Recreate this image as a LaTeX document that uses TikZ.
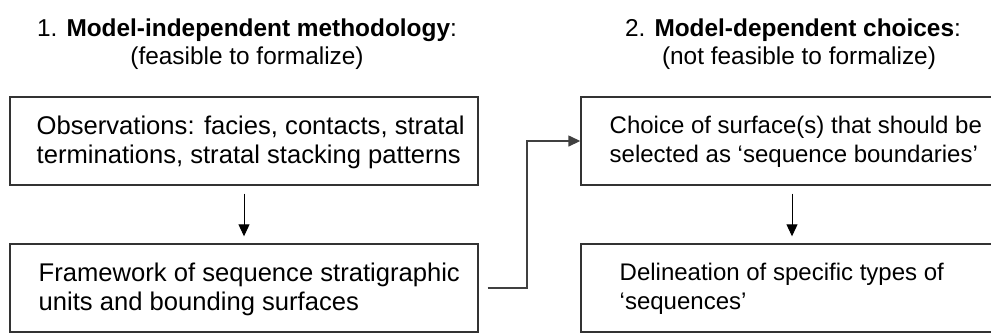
\documentclass[tikz,border=0pt]{standalone}
\usepackage{fontspec}
\setmainfont{Liberation Sans}
\usetikzlibrary{arrows.meta}
\tikzset{
	stagebox/.style={draw=black!80, line width=0.7pt, minimum height=44pt, inner sep=0pt},
	boxtext/.style={anchor=west, align=left, inner sep=0pt, font=\fontsize{12}{14.5}\selectfont},
	wide text/.style={boxtext, font=\fontsize{12.8}{14.5}\selectfont},
	heading/.style={align=center, inner sep=0pt, font=\fontsize{12.2}{14}\selectfont},
	flow/.style={-{Triangle[width=5.5pt,length=6pt]}, line width=0.5pt},
}
\begin{document}
\begin{tikzpicture}[x=0.5pt, y=-0.5pt]
		\useasboundingbox (0,0) rectangle (991,334);
		% headings
		\node[heading] (indep) at (247,44) {1. \textbf{Model-independent methodology}:\\(feasible to formalize)};
		\node[heading] (dep) at (793,44) {2. \textbf{Model-dependent choices}:\\\hspace*{6pt}(not feasible to formalize)};
		% boxes
		\node[stagebox, minimum width=234pt] (obs) at (244,141) {};
		\node[stagebox, minimum width=234pt] (frame) at (244,288) {};
		\node[stagebox, minimum width=206pt] (choice) at (787,141) {};
		\node[stagebox, minimum width=206pt] (delin) at (787,288) {};
		\node[wide text] (obstext) at ([xshift=13.5pt, yshift=-0.5pt]obs.west) {Observations: facies, contacts, stratal\\terminations, stratal stacking patterns};
		\node[wide text] (frametext) at ([xshift=14.5pt, yshift=-0.5pt]frame.west) {Framework of sequence stratigraphic\\units and bounding surfaces};
		\node[boxtext] (choicetext) at ([xshift=14.5pt, yshift=-0.5pt]choice.west) {Choice of surface(s) that should be\\selected as ‘sequence boundaries’};
		\node[boxtext] (delintext) at ([xshift=19.5pt, yshift=-0.5pt]delin.west) {Delineation of specific types of\\‘sequences’};
		% arrows
		\draw[flow, shorten <=4pt, shorten >=3.5pt] (obs) -- (frame);
		\draw[flow, shorten <=4pt, shorten >=3.5pt] ([xshift=2.5pt]choice.south) -- ([xshift=2.5pt]delin.north);
		\coordinate (bend) at (527,288);
		\draw[flow, line width=0.7pt, draw=black!75, shorten <=4.5pt] (frame.east) -- (bend) |- (choice.west);
	\end{tikzpicture}
\end{document}
